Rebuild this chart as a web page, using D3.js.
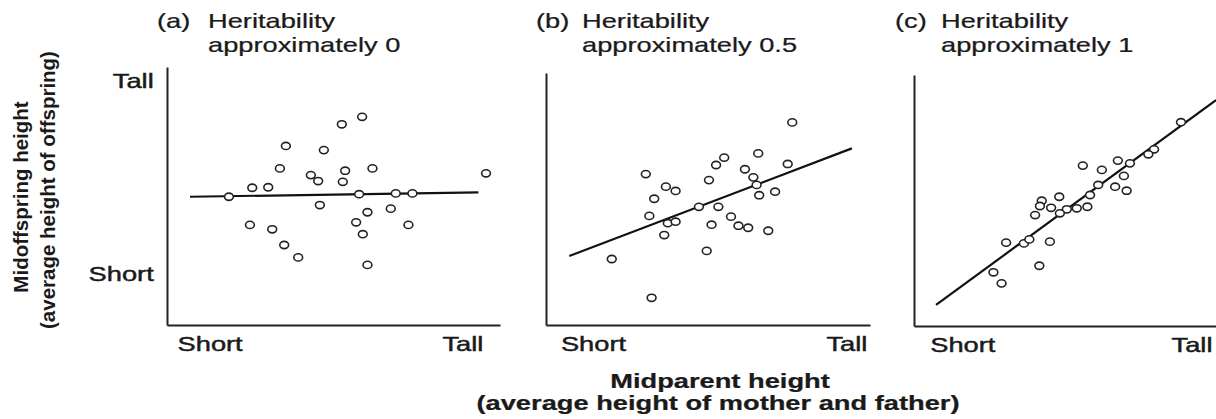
<!DOCTYPE html>
<html>
<head>
<meta charset="utf-8">
<script src="https://cdn.jsdelivr.net/npm/d3@7"></script>
<style>
  html, body { margin: 0; padding: 0; background: #fff; }
  svg { display: block; }
  text { font-family: "Liberation Sans", Arial, Helvetica, sans-serif; fill: #1a1a1a; }
</style>
</head>
<body>
<div class="chart_area"></div>
<script>
var width = 1216, height = 419;
// the scanned figure is stretched sideways, so text and dots get this factor
var SX = 1.33;

// data (both axes in arbitrary height units, 0 = short .. 100 = tall)
var heightLabels = ["Short", "Tall"];
var panelLetters = ["(a)", "(b)", "(c)"];
var panelTitles = ["Heritability", "Heritability", "Heritability"];
var panelSubtitles = ["approximately 0", "approximately 0.5", "approximately 1"];

var pointsA = [[58.6,80.7],[52.5,77.8],[35.7,69.4],[47.1,67.8],[33.9,60.7],[53.5,59.8],[61.7,60.7],
  [43.2,58.1],[45.4,55.8],[52.8,55.5],[25.6,53.2],[30.4,53.4],[95.8,58.8],[18.6,49.7],[57.7,50.7],
  [68.7,51.0],[73.7,51.0],[45.9,46.5],[60.2,43.7],[67.2,45.1],[24.9,38.8],[31.6,37.1],[56.8,39.8],
  [58.8,35.2],[72.5,38.8],[35.2,31.0],[39.4,26.2],[60.2,23.3]];
var pointsB = [[76.0,80.4],[65.5,68.1],[55.0,66.4],[52.5,63.5],[74.6,63.9],[30.8,59.9],[61.4,61.8],
  [64.0,58.6],[50.3,57.5],[65.0,55.6],[37.0,54.9],[40.0,53.2],[70.7,52.9],[65.8,51.5],[33.4,50.1],
  [47.2,46.9],[53.2,46.9],[31.9,43.3],[57.1,43.0],[37.6,40.4],[40.0,41.0],[51.1,39.8],[59.4,39.4],
  [62.4,38.6],[68.6,37.4],[36.5,35.7],[49.6,29.4],[20.3,26.2],[32.6,10.8]];
var pointsC = [[88.4,81.2],[79.5,70.4],[77.6,68.4],[67.5,65.9],[71.5,64.8],[55.9,63.9],[62.2,62.2],
  [69.5,59.8],[61.0,56.2],[66.6,55.5],[70.4,53.9],[58.3,52.2],[48.1,51.5],[42.3,49.9],[41.7,47.8],
  [45.4,47.1],[50.6,46.5],[53.9,46.9],[57.4,47.5],[48.3,44.9],[40.1,44.2],[30.5,33.2],[36.4,32.9],
  [38.2,34.5],[45.0,33.6],[41.5,24.0],[26.3,21.4],[29.0,17.0]];

// regression lines, end points
var fitA = [[6.9,49.7],[93.5,51.4]];
var fitB = [[7.2,27.4],[94.4,70.1]];
var fitC = [[7.3,8.4],[100,90.0]];

// where "Short" / "Tall" sit on each axis
var xTicksA = [12.8, 88.7];
var xTicksB = [14.5, 92.7];
var xTicksC = [16.0, 91.9];
var yTicksA = [19.8, 94.6];

var xAxisTitle = ["Midparent height", "(average height of mother and father)"];
var yAxisTitle = ["Midoffspring height", "(average height of offspring)"];

// layout of the three panels
var panels = [
  { left: 167, right: 500, top: 67, bottom: 325, letterX: 157, titleX: 208,
    points: pointsA, fit: fitA, xTicks: xTicksA, yTicks: yTicksA },
  { left: 546, right: 870, top: 73, bottom: 325, letterX: 536, titleX: 582,
    points: pointsB, fit: fitB, xTicks: xTicksB, yTicks: null },
  { left: 914, right: 1216, top: 75, bottom: 326, letterX: 895, titleX: 941,
    points: pointsC, fit: fitC, xTicks: xTicksC, yTicks: null }
];

var svg = d3.select(".chart_area")
    .append("svg")
    .attr("width", width)
    .attr("height", height);

function stretchedText(x, y, str, anchor, weight) {
    svg.append("text")
        .attr("transform", "translate(" + x + "," + y + ") scale(" + SX + ",1)")
        .attr("text-anchor", anchor || "start")
        .style("font-size", "20.5px")
        .style("font-weight", weight || "normal")
        .style("stroke", "#1a1a1a")
        .style("stroke-width", 0.25)
        .text(str);
}

panels.forEach(function (p, i) {

    var x = d3.scaleLinear().domain([0, 100]).range([p.left, p.right]);
    var y = d3.scaleLinear().domain([0, 100]).range([p.bottom, p.top]);

    // titles
    stretchedText(p.letterX, 28, panelLetters[i]);
    stretchedText(p.titleX, 28, panelTitles[i]);
    stretchedText(p.titleX, 52, panelSubtitles[i]);

    // x-axis
    var xg = svg.append("g")
        .attr("transform", "translate(0," + p.bottom + ")")
        .call(d3.axisBottom(x)
            .tickValues(p.xTicks)
            .tickFormat(function (d, k) { return heightLabels[k]; })
            .tickSize(0)
            .tickSizeOuter(0)
            .tickPadding(11));

    xg.selectAll("text")
        .attr("transform", "scale(" + SX + ",1)")
        .style("font-size", "20.5px")
        .style("fill", "#1a1a1a")
        .style("stroke", "#1a1a1a")
        .style("stroke-width", 0.45);

    xg.select(".domain")
        .style("stroke", "#222")
        .style("stroke-width", 2);

    // y-axis
    var yAxis = d3.axisLeft(y).tickSize(0).tickSizeOuter(0).tickPadding(10);
    if (p.yTicks) {
        yAxis.tickValues(p.yTicks).tickFormat(function (d, k) { return heightLabels[k]; });
    } else {
        yAxis.tickValues([]);
    }
    var yg = svg.append("g")
        .attr("transform", "translate(" + p.left + ",0)")
        .call(yAxis);

    yg.selectAll("text")
        .attr("transform", "scale(" + SX + ",1)")
        .style("font-size", "20.5px")
        .style("fill", "#1a1a1a")
        .style("stroke", "#1a1a1a")
        .style("stroke-width", 0.45);

    yg.select(".domain")
        .style("stroke", "#222")
        .style("stroke-width", 2);

    // fitted line
    svg.append("line")
        .attr("x1", x(p.fit[0][0]))
        .attr("y1", y(p.fit[0][1]))
        .attr("x2", x(p.fit[1][0]))
        .attr("y2", y(p.fit[1][1]))
        .style("stroke", "#111")
        .style("stroke-width", 2.2);

    // dots
    svg.append("g").selectAll("ellipse")
        .data(p.points)
        .enter()
        .append("ellipse")
        .attr("cx", function (d) { return x(d[0]); })
        .attr("cy", function (d) { return y(d[1]); })
        .attr("rx", 4.4)
        .attr("ry", 3.6)
        .style("fill", "#fff")
        .style("stroke", "#222")
        .style("stroke-width", 1.6);
});

// axis titles
stretchedText(720, 388, xAxisTitle[0], "middle", "bold");
stretchedText(718, 410, xAxisTitle[1], "middle", "bold");

svg.append("text")
    .attr("transform", "translate(28,197) rotate(-90)")
    .attr("text-anchor", "middle")
    .style("font-size", "20.5px")
    .style("font-weight", "bold")
    .text(yAxisTitle[0]);

svg.append("text")
    .attr("transform", "translate(55,190) rotate(-90)")
    .attr("text-anchor", "middle")
    .style("font-size", "20.5px")
    .style("font-weight", "bold")
    .text(yAxisTitle[1]);
</script>
</body>
</html>
